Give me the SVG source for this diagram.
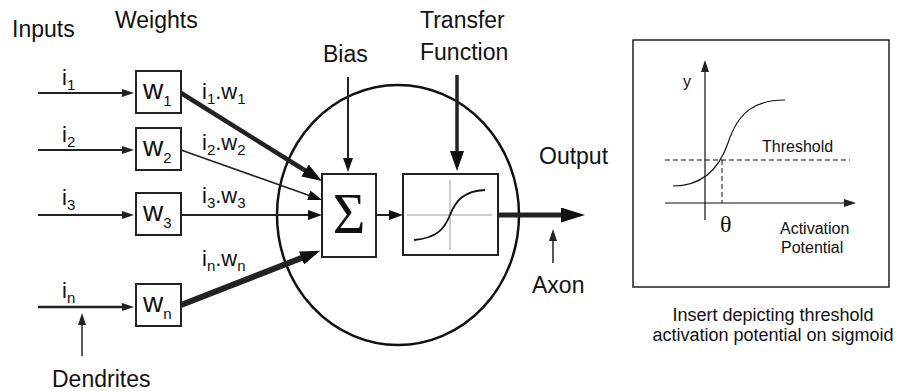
<svg xmlns="http://www.w3.org/2000/svg" width="899" height="392" viewBox="0 0 899 392">
<style>
.t{font-family:"Liberation Sans",Arial,sans-serif;fill:#111;}
.big{font-size:23px;}
.lbl{font-size:22px;}
.wl{font-size:28px;}
.sub{font-size:15px;}
.ins{font-size:16px;}
.cap{font-size:18px;}
.box{fill:#fff;stroke:#222;stroke-width:2;}
.ln{fill:none;stroke:#222;}
</style>
<defs>
<marker id="aS" markerUnits="userSpaceOnUse" markerWidth="12" markerHeight="8" refX="2" refY="4" orient="auto"><path d="M0,0L12,4L0,8z" fill="#222"/></marker>
<marker id="aM" markerUnits="userSpaceOnUse" markerWidth="14" markerHeight="10" refX="2" refY="5" orient="auto"><path d="M0,0L14,5L0,10z" fill="#111"/></marker>
<marker id="aL" markerUnits="userSpaceOnUse" markerWidth="20" markerHeight="14" refX="2" refY="7" orient="auto"><path d="M0,0L20,7L0,14z" fill="#111"/></marker>
<marker id="aO" markerUnits="userSpaceOnUse" markerWidth="24" markerHeight="15" refX="2" refY="7.5" orient="auto"><path d="M0,0L24,7.5L0,15z" fill="#111"/></marker>
</defs>

<g id="labels">
<text class="t big" x="12" y="37">Inputs</text>
<text class="t big" x="115" y="28">Weights</text>
<text class="t big" x="323" y="62">Bias</text>
<text class="t big" x="420" y="28">Transfer</text>
<text class="t big" x="420" y="60">Function</text>
<text class="t big" x="539" y="164">Output</text>
<text class="t big" x="532" y="293">Axon</text>
<text class="t big" x="52" y="387">Dendrites</text>
</g>

<g id="neuron">
<ellipse cx="398" cy="215" rx="121" ry="130" fill="none" stroke="#111" stroke-width="2.5"/>
</g>

<g id="input-labels">
<text class="t lbl" x="62" y="85">i<tspan class="sub" dy="5">1</tspan></text>
<text class="t lbl" x="62" y="142">i<tspan class="sub" dy="5">2</tspan></text>
<text class="t lbl" x="62" y="205">i<tspan class="sub" dy="5">3</tspan></text>
<text class="t lbl" x="62" y="298">i<tspan class="sub" dy="5">n</tspan></text>
</g>

<g id="w1"><rect class="box" x="136" y="71" width="45" height="42"/><text class="t wl" x="143" y="99">w<tspan class="sub" dy="7" font-size="16">1</tspan></text></g>
<g id="w2"><rect class="box" x="136" y="128" width="45" height="42"/><text class="t wl" x="143" y="156">w<tspan class="sub" dy="7" font-size="16">2</tspan></text></g>
<g id="w3"><rect class="box" x="136" y="193" width="45" height="42"/><text class="t wl" x="143" y="221">w<tspan class="sub" dy="7" font-size="16">3</tspan></text></g>
<g id="wn"><rect class="box" x="136" y="284" width="45" height="42"/><text class="t wl" x="143" y="312">w<tspan class="sub" dy="7" font-size="16">n</tspan></text></g>

<g id="product-labels">
<text class="t lbl" x="202" y="99">i<tspan class="sub" dy="5">1</tspan><tspan dy="-5">.w</tspan><tspan class="sub" dy="5">1</tspan></text>
<text class="t lbl" x="202" y="150">i<tspan class="sub" dy="5">2</tspan><tspan dy="-5">.w</tspan><tspan class="sub" dy="5">2</tspan></text>
<text class="t lbl" x="202" y="203">i<tspan class="sub" dy="5">3</tspan><tspan dy="-5">.w</tspan><tspan class="sub" dy="5">3</tspan></text>
<text class="t lbl" x="202" y="266">i<tspan class="sub" dy="5">n</tspan><tspan dy="-5">.w</tspan><tspan class="sub" dy="5">n</tspan></text>
</g>

<g id="sum"><rect class="box" x="322" y="174" width="54" height="83"/><text x="349" y="233" text-anchor="middle" font-family="'Liberation Serif','Times New Roman',serif" font-size="56" fill="#111">Σ</text></g>

<g id="transfer">
<rect class="box" x="403" y="174" width="95" height="81"/>
<line x1="450" y1="180" x2="450" y2="250" stroke="#999" stroke-width="1"/>
<line x1="407" y1="215" x2="492" y2="215" stroke="#999" stroke-width="1"/>
<path d="M414,240C436,238 444,230 450,215C456,200 464,191 485,190" fill="none" stroke="#111" stroke-width="1.8"/>
</g>

<g id="connectors">
<line class="ln" x1="38" y1="93" x2="124" y2="93" stroke-width="2" marker-end="url(#aS)"/>
<line class="ln" x1="38" y1="150" x2="124" y2="150" stroke-width="2" marker-end="url(#aS)"/>
<line class="ln" x1="38" y1="215" x2="124" y2="215" stroke-width="2" marker-end="url(#aS)"/>
<line class="ln" x1="38" y1="307" x2="124" y2="307" stroke-width="2.5" marker-end="url(#aS)"/>
<line class="ln" x1="181" y1="93" x2="306.7" y2="171.5" stroke-width="4.5" stroke="#111" marker-end="url(#aL)"/>
<line class="ln" x1="181" y1="150" x2="310.7" y2="196" stroke-width="1.5" marker-end="url(#aM)"/>
<line class="ln" x1="181" y1="215" x2="310" y2="215" stroke-width="2" marker-end="url(#aM)"/>
<line class="ln" x1="181" y1="305" x2="303.4" y2="257.3" stroke-width="6" stroke="#111" marker-end="url(#aL)"/>
<line class="ln" x1="348" y1="77" x2="348" y2="160" stroke-width="2" marker-end="url(#aM)"/>
<line class="ln" x1="457" y1="75" x2="457" y2="153" stroke-width="3.5" stroke="#111" marker-end="url(#aL)"/>
<line class="ln" x1="376" y1="215" x2="391" y2="215" stroke-width="2" marker-end="url(#aM)"/>
<line class="ln" x1="498" y1="215" x2="563" y2="215" stroke-width="5" stroke="#111" marker-end="url(#aO)"/>
<line class="ln" x1="553" y1="263" x2="553" y2="239" stroke-width="1.5" marker-end="url(#aS)"/>
<line class="ln" x1="82" y1="356" x2="82" y2="323" stroke-width="1.5" marker-end="url(#aS)"/>
</g>

<g id="insert">
<rect x="633" y="40" width="256" height="247" fill="#fff" stroke="#222" stroke-width="1.5"/>
<line x1="705" y1="220" x2="705" y2="70" stroke="#111" stroke-width="1.2" marker-end="url(#aS)"/>
<line x1="665" y1="203" x2="846" y2="203" stroke="#111" stroke-width="1.2" marker-end="url(#aS)"/>
<line x1="665" y1="160" x2="850" y2="160" stroke="#111" stroke-width="1" stroke-dasharray="5,3"/>
<line x1="722" y1="160" x2="722" y2="203" stroke="#111" stroke-width="1" stroke-dasharray="5,3"/>
<path d="M673,186C700,186 718,172 728,143C738,112 755,100 785,100" fill="none" stroke="#111" stroke-width="1.2"/>
<text class="t ins" x="683" y="87">y</text>
<text class="t ins" x="762" y="152">Threshold</text>
<text x="720" y="232" font-family="'Liberation Serif','Times New Roman',serif" font-size="24" fill="#111">θ</text>
<text class="t ins" x="780" y="234">Activation</text>
<text class="t ins" x="781" y="253">Potential</text>
</g>

<g id="caption">
<text class="t cap" x="773" y="321" text-anchor="middle">Insert depicting threshold</text>
<text class="t cap" x="773" y="341" text-anchor="middle">activation potential on sigmoid</text>
</g>
</svg>
